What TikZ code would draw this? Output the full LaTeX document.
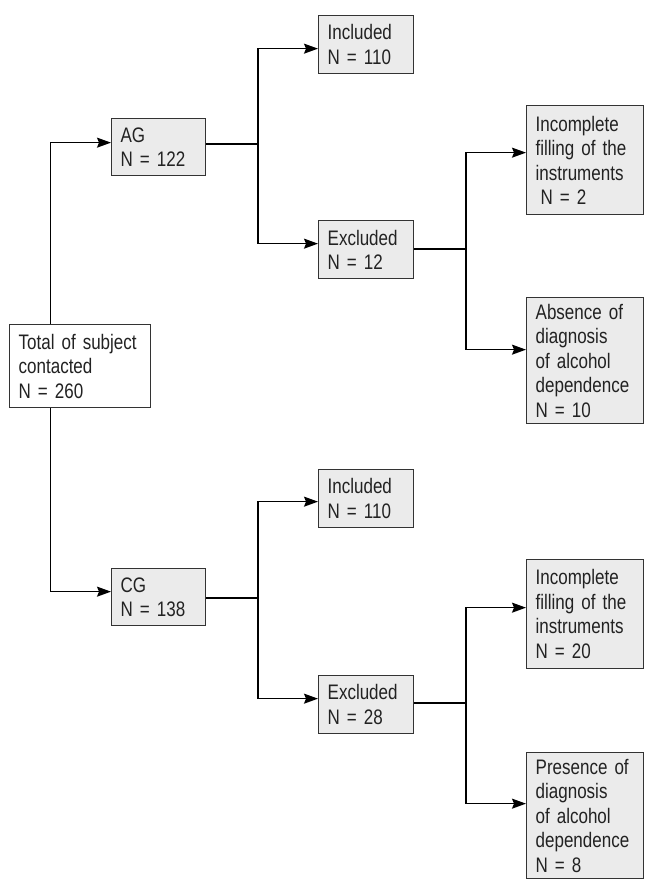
\documentclass[tikz,border=0pt]{standalone}
\usepackage{fontspec}
\setmainfont[FakeStretch=0.81]{Liberation Sans}
\usepackage{xcolor}
\usepackage{tikz}
\usetikzlibrary{arrows.meta,positioning,calc}
\definecolor{ink}{HTML}{222222}
\definecolor{edge}{HTML}{333333}
\definecolor{shade}{HTML}{EBEBEB}
\tikzset{
  box/.style={draw=edge,fill=white,line width=1.3pt,anchor=north west,align=left,
    inner xsep=9pt,inner ysep=0pt,text=ink,font=\fontsize{21}{24.5}\selectfont},
  boxg/.style={box,fill=shade},
  line/.style={line width=1.3pt,color=black},
  arr/.style={line,-{Stealth[length=14pt,width=10pt,inset=2pt]}},
}

\begin{document}
\begin{tikzpicture}[x=1pt,y=-1pt]
\useasboundingbox (0,0) rectangle (645,882);
% start and the two groups
\node[box,minimum width=141pt,minimum height=83pt,text width=123pt] (total) at (9,324) {Total of subject\\contacted\\N = 260};
\node[boxg,minimum width=94pt,minimum height=57pt,text width=76pt] (ag) at (111,118) {AG\\N = 122};
\node[boxg,minimum width=94pt,minimum height=57pt,text width=76pt] (cg) at (111,568) {CG\\N = 138};
% included / excluded
\node[boxg,minimum width=95pt,minimum height=58pt,text width=77pt] (incA) at (318,15) {Included\\N = 110};
\node[boxg,minimum width=95pt,minimum height=58pt,text width=77pt] (excA) at (318,220) {Excluded\\N = 12};
\node[boxg,minimum width=95pt,minimum height=58pt,text width=77pt] (incB) at (318,469) {Included\\N = 110};
\node[boxg,minimum width=95pt,minimum height=58pt,text width=77pt] (excB) at (318,675) {Excluded\\N = 28};
% reasons of exclusion
\node[boxg,minimum width=117pt,minimum height=109pt,text width=99pt] (fillA) at (526,105) {Incomplete\\filling of the\\instruments\\\hspace*{5pt}N = 2};
\node[boxg,minimum width=117pt,minimum height=126pt,text width=99pt] (diagA) at (526,297) {Absence of\\diagnosis\\of alcohol\\dependence\\N = 10};
\node[boxg,minimum width=117pt,minimum height=109pt,text width=99pt] (fillB) at (526,559) {Incomplete\\filling of the\\instruments\\N = 20};
\node[boxg,minimum width=117pt,minimum height=126pt,text width=99pt] (diagB) at (526,752) {Presence of\\diagnosis\\of alcohol\\dependence\\N = 8};
% branch points
\coordinate (ja) at (258,144);
\coordinate (jb) at (466,249);
\coordinate (jc) at (258,598);
\coordinate (jd) at (466,703);
% connectors
\draw[arr] ([xshift=-29.5pt]total.north) |- ([yshift=4.5pt]ag.west);
\draw[arr] ([xshift=-29.5pt]total.south) |- ([yshift=5.5pt]cg.west);
\draw[line] (ag.east |- ja) -- (ja);
\draw[arr] (ja) |- ([yshift=-4pt]incA.west);
\draw[arr] (ja) |- ([yshift=6pt]excA.west);
\draw[line] (excA.east |- jb) -- (jb);
\draw[arr] (jb) |- ([yshift=7.5pt]fillA.west);
\draw[arr] (jb) |- ([yshift=11pt]diagA.west);
\draw[line] (cg.east |- jc) -- (jc);
\draw[arr] (jc) |- ([yshift=-3pt]incB.west);
\draw[arr] (jc) |- ([yshift=6pt]excB.west);
\draw[line] (excB.east |- jd) -- (jd);
\draw[arr] (jd) |- ([yshift=6.5pt]fillB.west);
\draw[arr] (jd) |- ([yshift=12pt]diagB.west);
\end{tikzpicture}
\end{document}
